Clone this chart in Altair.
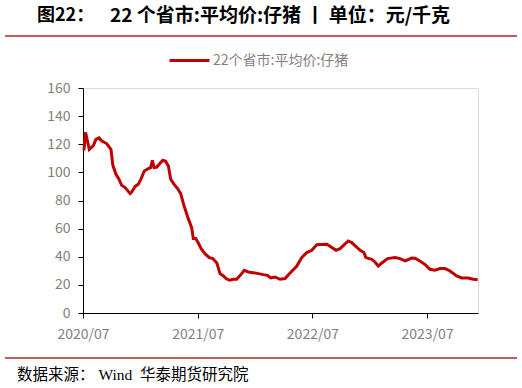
import altair as alt
import pandas as pd

dates = [
    "2020-07-04", "2020-07-09", "2020-07-21", "2020-08-03", "2020-08-11", "2020-08-21",
    "2020-08-30", "2020-09-14", "2020-09-28", "2020-10-04", "2020-10-14", "2020-10-23",
    "2020-11-01", "2020-11-12", "2020-11-28", "2020-12-03", "2020-12-14", "2020-12-24",
    "2021-01-02", "2021-01-12", "2021-01-25", "2021-02-01", "2021-02-07", "2021-02-12",
    "2021-02-21", "2021-03-01", "2021-03-12", "2021-03-21", "2021-03-30", "2021-04-06",
    "2021-04-17", "2021-04-28", "2021-05-08", "2021-05-18", "2021-06-01", "2021-06-12",
    "2021-06-17", "2021-06-25", "2021-07-03", "2021-07-12", "2021-07-24", "2021-08-07",
    "2021-08-18", "2021-08-31", "2021-09-10", "2021-09-21", "2021-09-29", "2021-10-10",
    "2021-10-22", "2021-11-02", "2021-11-18", "2021-11-26", "2021-12-09", "2021-12-25",
    "2022-01-10", "2022-01-26", "2022-02-08", "2022-02-18", "2022-03-04", "2022-03-20",
    "2022-04-05", "2022-04-21", "2022-05-12", "2022-05-28", "2022-06-13", "2022-06-29",
    "2022-07-15", "2022-08-16", "2022-08-26", "2022-09-14", "2022-09-27", "2022-10-23",
    "2022-11-03", "2022-11-30", "2022-12-12", "2022-12-18", "2023-01-06", "2023-01-16",
    "2023-01-27", "2023-02-07", "2023-02-25", "2023-03-21", "2023-04-06", "2023-04-22",
    "2023-05-13", "2023-05-24", "2023-06-09", "2023-06-25", "2023-07-10", "2023-07-26",
    "2023-08-11", "2023-08-27", "2023-09-12", "2023-10-03", "2023-10-19", "2023-11-09",
    "2023-11-25", "2023-12-09",
]
prices = [
    115.7, 128.5, 116.4, 119.0, 123.5, 124.5,
    122.3, 120.5, 116.4, 105.0, 98.6, 95.3,
    90.8, 89.2, 84.9, 86.0, 90.0, 91.5,
    95.6, 101.0, 102.7, 103.4, 108.6, 103.4,
    103.8, 106.0, 108.6, 107.9, 104.3, 95.1,
    91.5, 88.5, 84.9, 76.6, 67.1, 60.5,
    52.9, 52.9, 49.8, 45.8, 42.2, 39.4,
    38.7, 35.6, 28.0, 26.3, 24.5, 23.3,
    24.0, 24.0, 28.0, 30.4, 29.2, 28.7,
    28.0, 27.3, 26.8, 24.9, 25.6, 24.0,
    24.5, 28.5, 33.2, 39.4, 43.0, 44.6,
    48.6, 48.9, 47.4, 44.6, 45.8, 51.2,
    50.1, 44.6, 43.0, 39.4, 38.2, 36.3,
    33.4, 35.6, 38.7, 39.4, 38.7, 37.0,
    39.1, 38.9, 36.8, 34.4, 31.1, 30.4,
    31.6, 31.6, 29.9, 26.3, 24.9, 24.9,
    24.0, 23.7,
]
series_name = "22个省市:平均价:仔猪"
title_prefix = "图22："
title_main = "22 个省市:平均价:仔猪 丨 单位：元/千克"
source_text = "数据来源：\u00a0Wind\u00a0\u00a0华泰期货研究院"
y_ticks = [0, 20, 40, 60, 80, 100, 120, 140, 160]

df = pd.DataFrame({"date": dates, "price": prices, "series": [series_name] * len(dates)})

FONT = "Noto Sans CJK SC"
GRAY = "#7f7f7f"
RED_LINE = "#c00000"
SEP = "#c9595a"

x_enc = alt.X(
    "date:T",
    scale=alt.Scale(domain=["2020-07-01", "2023-12-10"]),
    axis=alt.Axis(
        title=None,
        format="%Y/%m",
        values=[
            alt.DateTime(year=2020, month=7, date=1),
            alt.DateTime(year=2021, month=7, date=1),
            alt.DateTime(year=2022, month=7, date=1),
            alt.DateTime(year=2023, month=7, date=1),
        ],
        grid=False,
        labelFlush=False,
        domainColor="#000000",
        tickColor="#000000",
        tickSize=5,
        labelColor=GRAY,
        labelFont=FONT,
        labelFontSize=14,
        labelPadding=9,
    ),
)
y_enc = alt.Y(
    "price:Q",
    scale=alt.Scale(domain=[0, 160]),
    axis=alt.Axis(
        title=None,
        values=y_ticks,
        grid=False,
        domainColor="#000000",
        tickColor="#000000",
        tickSize=5,
        labelColor=GRAY,
        labelFont=FONT,
        labelFontSize=14,
        labelPadding=8,
    ),
)

line = alt.Chart(df).mark_line(strokeWidth=3, clip=False).encode(
    x=x_enc,
    y=y_enc,
    color=alt.Color(
        "series:N",
        scale=alt.Scale(range=[RED_LINE]),
        legend=alt.Legend(
            title=None,
            orient="none",
            legendX=85,
            legendY=-49,
            symbolType="stroke",
            symbolSize=1600,
            symbolStrokeWidth=3,
            labelFont=FONT,
            labelFontSize=14,
            labelColor=GRAY,
            labelOffset=2,
        ),
    ),
)

one = pd.DataFrame({"k": [0]})

sep_top = alt.Chart(one).mark_rule(color=SEP, strokeWidth=2).encode(
    x=alt.value(-78), x2=alt.value(434), y=alt.value(-52)
)
sep_bottom = alt.Chart(one).mark_rule(color=SEP, strokeWidth=2).encode(
    x=alt.value(-78), x2=alt.value(434), y=alt.value(270)
)
t1 = alt.Chart(one).mark_text(
    text=title_prefix, font=FONT, fontSize=18, fontWeight="bold", color="#000000",
    align="left", baseline="middle",
).encode(x=alt.value(-46), y=alt.value(-72))
t2 = alt.Chart(one).mark_text(
    text=title_main, font=FONT, fontSize=19, fontWeight="bold", color="#000000",
    align="left", baseline="middle",
).encode(x=alt.value(27), y=alt.value(-72))
src = alt.Chart(one).mark_text(
    text=source_text, font="Liberation Serif, " + FONT, fontSize=15.5, color="#000000",
    align="left", baseline="middle",
).encode(x=alt.value(-66), y=alt.value(287))

chart = alt.layer(line, sep_top, sep_bottom, t1, t2, src).properties(
    width=395,
    height=225,
    autosize=alt.AutoSizeParams(type="none"),
    padding={"left": 83, "top": 88, "right": 44, "bottom": 75},
).configure_view(stroke=None).configure(background="white")

chart.save("out.html", embed_options={"renderer": "svg", "actions": False})
